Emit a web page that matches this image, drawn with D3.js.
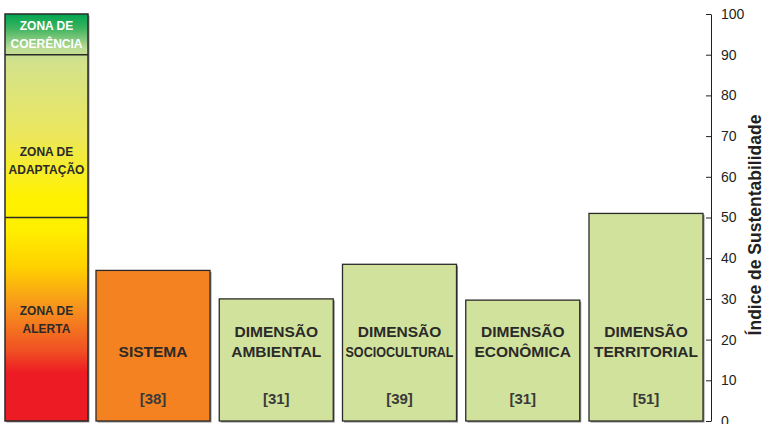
<!DOCTYPE html>
<html>
<head>
<meta charset="utf-8">
<script src="https://cdn.jsdelivr.net/npm/d3@7"></script>
<style>
  body { margin: 0; background: #fff; }
  svg { display: block; }
  .lbl { font-family: "Liberation Sans", Arial, sans-serif; font-weight: bold; fill: #2b2a29; }
  .axis text { font-family: "Liberation Sans Narrow", "Liberation Sans", Arial, sans-serif; font-size: 14px; fill: #231f20; }
  .axis path, .axis line { stroke: #231f20; }
</style>
</head>
<body>
<div id="chart"></div>
<script>
var svgWidth = 765;
var svgHeight = 424;

// data
var categories = ["SISTEMA", "DIMENSÃO AMBIENTAL", "DIMENSÃO SOCIOCULTURAL", "DIMENSÃO ECONÔMICA", "DIMENSÃO TERRITORIAL"];
var labelLines = [["SISTEMA"], ["DIMENSÃO", "AMBIENTAL"], ["DIMENSÃO", "SOCIOCULTURAL"], ["DIMENSÃO", "ECONÔMICA"], ["DIMENSÃO", "TERRITORIAL"]];
var barValues = [37, 30, 38.5, 29.7, 51];
var indexLabels = ["[38]", "[31]", "[39]", "[31]", "[51]"];

var zoneNames = [["ZONA DE", "ALERTA"], ["ZONA DE", "ADAPTAÇÃO"], ["ZONA DE", "COERÊNCIA"]];
var zoneBounds = [0, 50, 90, 100];
var zoneLabelAt = [25, 64, 95];
var tickValues = [0, 10, 20, 30, 40, 50, 60, 70, 80, 90, 100];

var svg = d3.select("#chart")
  .append("svg")
  .attr("width", svgWidth)
  .attr("height", svgHeight);

var y = d3.scaleLinear()
  .domain([0, 100])
  .range([421, 14]);

var x = d3.scaleBand()
  .domain(categories)
  .range([96, 703])
  .paddingInner(0.075)
  .paddingOuter(0);

// gradient for the zone column
var defs = svg.append("defs");
var grad = defs.append("linearGradient")
  .attr("id", "zoneGrad")
  .attr("x1", 0).attr("y1", 0).attr("x2", 0).attr("y2", 1);
[
  [0, "#00a651"], [0.035, "#3db35f"], [0.085, "#bcdc96"], [0.12, "#d3e28b"],
  [0.3, "#ece75c"], [0.45, "#fff200"], [0.53, "#ffef00"], [0.62, "#ffd200"],
  [0.72, "#f7941d"], [0.83, "#f04e23"], [0.88, "#ed1c24"], [1, "#ed1c24"]
].forEach(function(s) {
  grad.append("stop").attr("offset", s[0]).attr("stop-color", s[1]);
});

var zoneX0 = 5, zoneX1 = 88;
var zoneCx = (zoneX0 + zoneX1) / 2;

// shadow + column
svg.append("rect")
  .attr("x", zoneX0 + 1.5).attr("y", y(100) + 1.5)
  .attr("width", zoneX1 - zoneX0).attr("height", y(0) - y(100))
  .attr("fill", "#9a9a9a");
svg.append("rect")
  .attr("x", zoneX0).attr("y", y(100))
  .attr("width", zoneX1 - zoneX0).attr("height", y(0) - y(100))
  .attr("fill", "url(#zoneGrad)")
  .attr("stroke", "#2b2a29")
  .attr("stroke-width", 1.5);

// zone dividers
svg.selectAll(".zoneDiv")
  .data(zoneBounds.slice(1, 3))
  .enter()
  .append("line")
  .attr("x1", zoneX0).attr("x2", zoneX1)
  .attr("y1", d => y(d)).attr("y2", d => y(d))
  .attr("stroke", "#2b2a29")
  .attr("stroke-width", 1.5);

// zone labels
zoneNames.forEach(function(lines, i) {
  var cy = y(zoneLabelAt[i]);
  lines.forEach(function(t, j) {
    svg.append("text")
      .attr("class", "lbl")
      .attr("x", zoneCx)
      .attr("y", cy + (j - (lines.length - 1) / 2) * 18 + 4.5)
      .attr("text-anchor", "middle")
      .style("font-size", "12px")
      .style("fill", i === 2 ? "#ffffff" : "#2b2a29")
      .text(t);
  });
});

// bars (shadow first)
svg.selectAll(".barShadow")
  .data(barValues)
  .enter()
  .append("rect")
  .attr("x", (d, i) => x(categories[i]) + 1.5)
  .attr("y", d => y(d) + 1.5)
  .attr("width", x.bandwidth())
  .attr("height", d => y(0) - y(d))
  .attr("fill", "#8c8c8c");

svg.selectAll(".bar")
  .data(barValues)
  .enter()
  .append("rect")
  .attr("class", "bar")
  .attr("x", (d, i) => x(categories[i]))
  .attr("y", d => y(d))
  .attr("width", x.bandwidth())
  .attr("height", d => y(0) - y(d))
  .attr("fill", (d, i) => i === 0 ? "#f58220" : "#d1e29c")
  .attr("stroke", "#2b2a29")
  .attr("stroke-width", 1.3);

// bar labels
var baseY = y(0);
categories.forEach(function(c, i) {
  var cx = x(c) + x.bandwidth() / 2;
  var lines = labelLines[i];
  lines.forEach(function(t, j) {
    var txt = svg.append("text")
      .attr("class", "lbl")
      .attr("x", cx)
      .attr("y", baseY - 64 + (j - lines.length + 1) * 20)
      .attr("text-anchor", "middle")
      .style("font-size", "15.5px")
      .text(t);
    var w = txt.node().getComputedTextLength();
    if (w > x.bandwidth() - 6) {
      txt.attr("textLength", x.bandwidth() - 6).attr("lengthAdjust", "spacingAndGlyphs");
    }
  });
  svg.append("text")
    .attr("class", "lbl")
    .attr("x", cx)
    .attr("y", baseY - 17)
    .attr("text-anchor", "middle")
    .style("font-size", "15px")
    .style("fill", "#3a3a3a")
    .text(indexLabels[i]);
});

// right axis
var rightAxis = d3.axisRight(y)
  .tickValues(tickValues)
  .tickSizeInner(-5)
  .tickSizeOuter(0)
  .tickPadding(10);

svg.append("g")
  .attr("class", "axis")
  .attr("transform", "translate(711, 0)")
  .call(rightAxis);

svg.append("text")
  .attr("class", "lbl")
  .attr("transform", "translate(761, 225) rotate(-90)")
  .attr("text-anchor", "middle")
  .style("font-size", "17.5px")
  .style("fill", "#231f20")
  .text("Índice de Sustentabilidade");
</script>
</body>
</html>
